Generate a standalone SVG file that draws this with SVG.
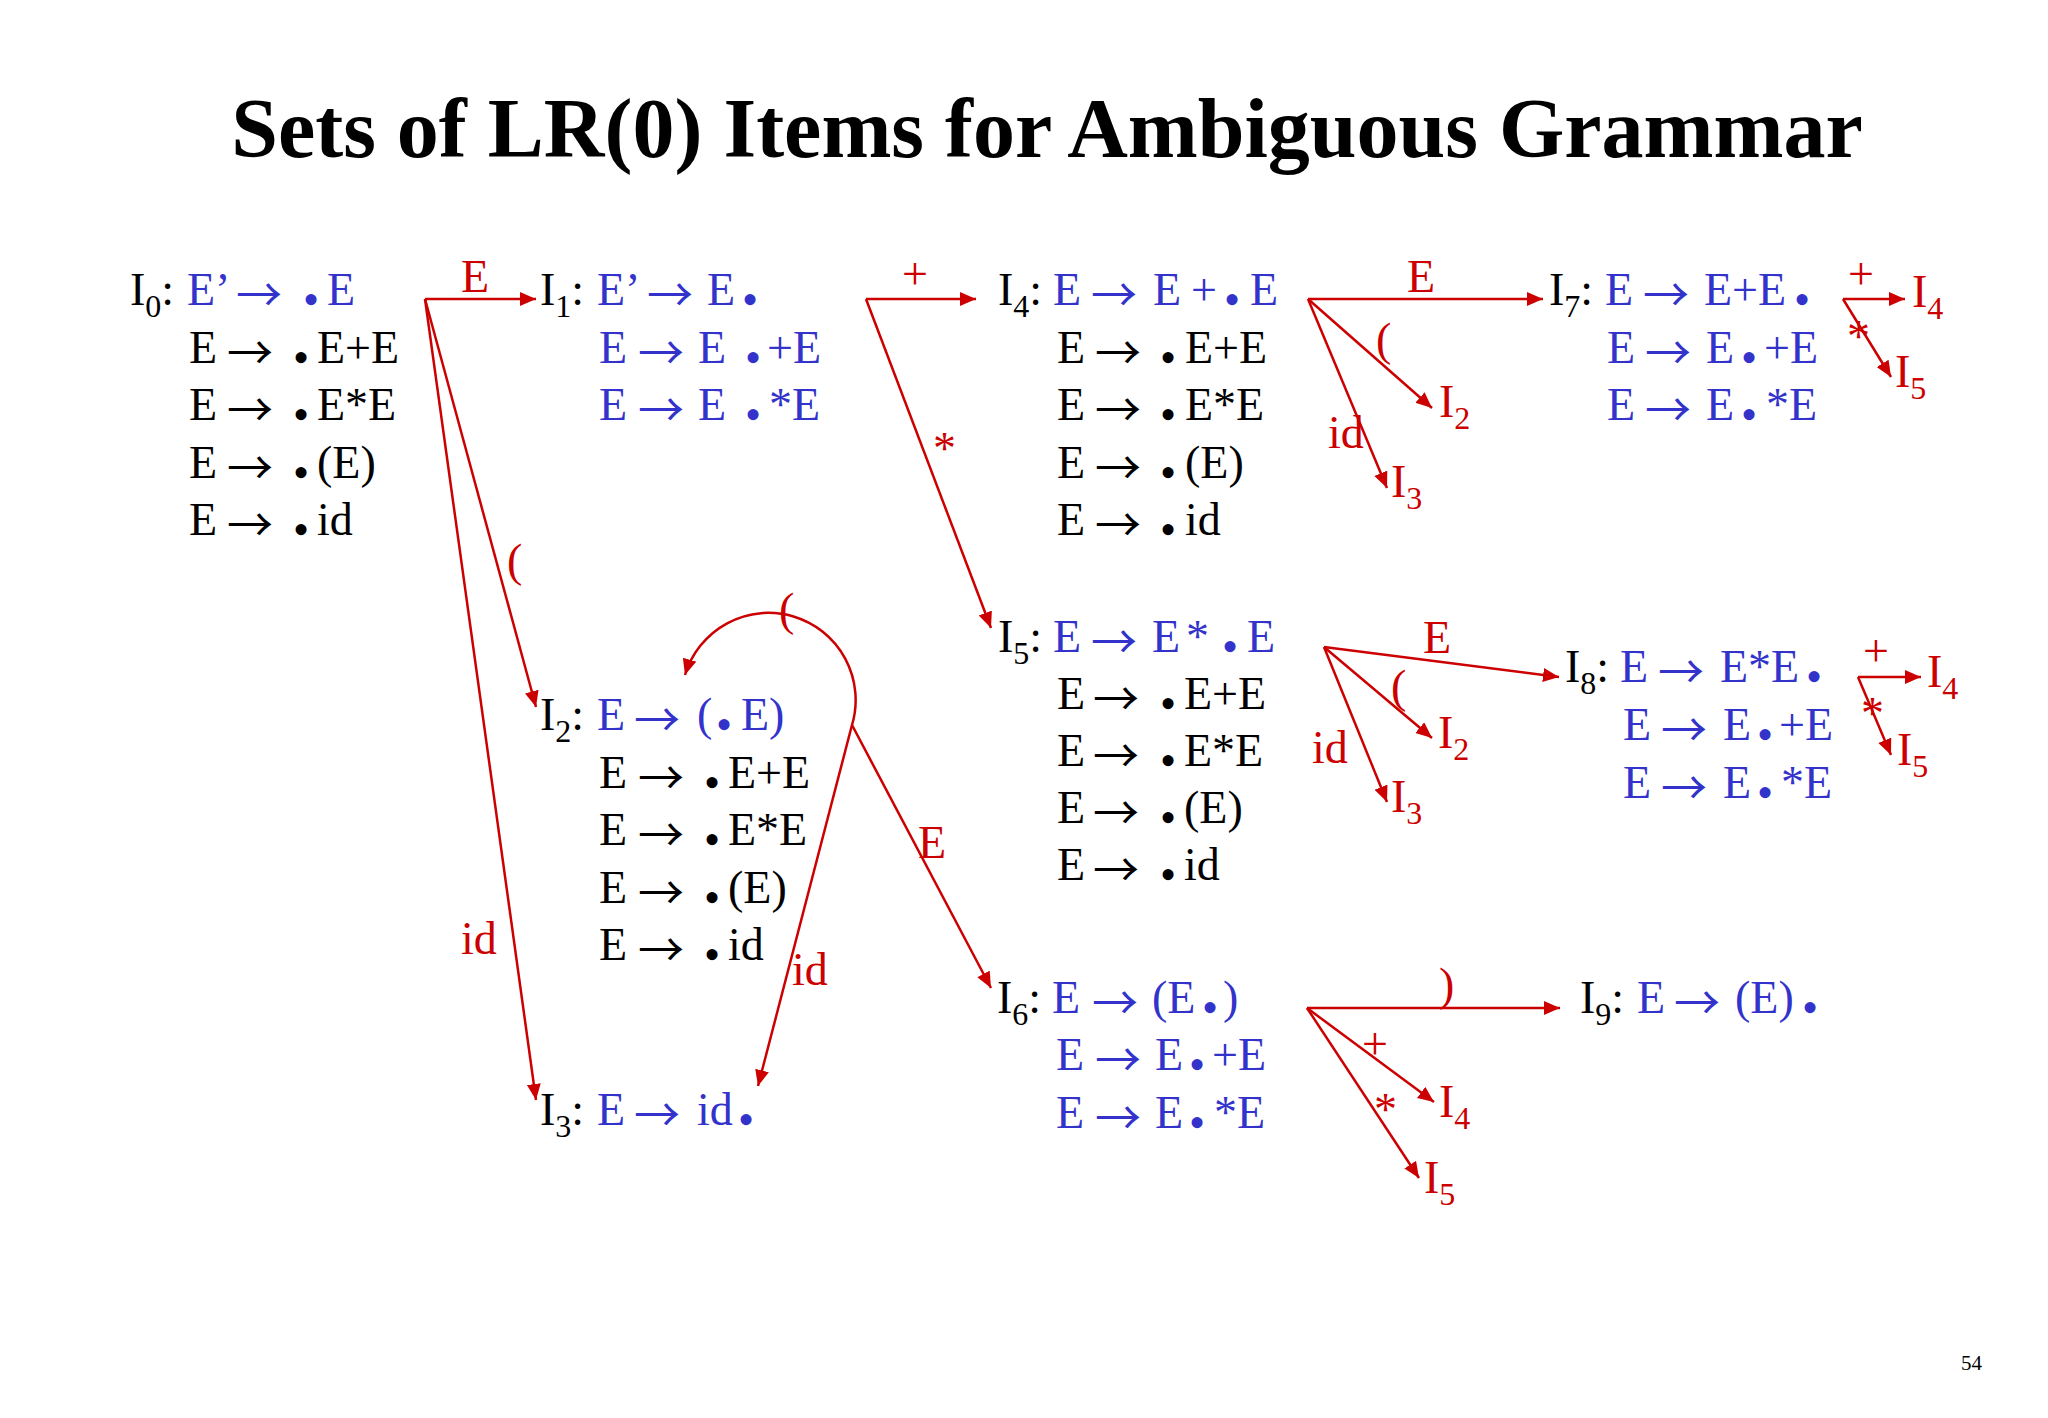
<svg xmlns="http://www.w3.org/2000/svg" width="2048" height="1418" viewBox="0 0 2048 1418">
<defs>
<style>
.t{font-family:"Liberation Serif","Times New Roman",serif;font-size:46px}
.k{fill:#000}
.b{fill:#3333CC}
.r{fill:#CC0000}
.s{font-size:32px}
.a{font-family:"Noto Sans CJK JP","Noto Sans CJK SC","DejaVu Sans",sans-serif;font-size:46px}
.ttl{font-family:"Liberation Serif","Times New Roman",serif;font-size:84px;font-weight:bold;fill:#000}
.c{fill:none;stroke:#CC0000;stroke-width:2.5}
</style>
<marker id="ah" markerUnits="userSpaceOnUse" markerWidth="18" markerHeight="16" refX="16" refY="7" orient="auto">
<path d="M0,0 L16,7 L0,14 z" fill="#CC0000"/>
</marker>
</defs>
<rect width="2048" height="1418" fill="#fff"/>
<text class="ttl" x="1047" y="157" text-anchor="middle">Sets of LR(0) Items for Ambiguous Grammar</text>

<g id="I0">
<text class="t k" x="130" y="305">I<tspan class="s" dy="12">0</tspan><tspan dy="-12">:</tspan></text>
<text class="t b" y="305"><tspan x="187">E’</tspan><tspan class="a" x="236" dy="6">→</tspan><tspan x="303" dy="4">•</tspan><tspan x="327" dy="-10">E</tspan></text>
<text class="t k" y="363"><tspan x="189">E</tspan><tspan class="a" x="227" dy="6">→</tspan><tspan x="293" dy="4">•</tspan><tspan x="317" dy="-10">E+E</tspan></text>
<text class="t k" y="420"><tspan x="189">E</tspan><tspan class="a" x="227" dy="6">→</tspan><tspan x="293" dy="4">•</tspan><tspan x="317" dy="-10">E*E</tspan></text>
<text class="t k" y="477.5"><tspan x="189">E</tspan><tspan class="a" x="227" dy="6">→</tspan><tspan x="293" dy="4">•</tspan><tspan x="317" dy="-10">(E)</tspan></text>
<text class="t k" y="535"><tspan x="189">E</tspan><tspan class="a" x="227" dy="6">→</tspan><tspan x="293" dy="4">•</tspan><tspan x="317" dy="-10">id</tspan></text>
</g>

<g id="I1">
<text class="t k" x="540" y="305">I<tspan class="s" dy="12">1</tspan><tspan dy="-12">:</tspan></text>
<text class="t b" y="305"><tspan x="597">E’</tspan><tspan class="a" x="647" dy="6">→</tspan><tspan x="707" dy="-6">E</tspan><tspan x="742" dy="10">•</tspan></text>
<text class="t b" y="363"><tspan x="599">E</tspan><tspan class="a" x="638" dy="6">→</tspan><tspan x="698" dy="-6">E</tspan><tspan x="745" dy="10">•</tspan><tspan x="767" dy="-10">+E</tspan></text>
<text class="t b" y="420"><tspan x="599">E</tspan><tspan class="a" x="638" dy="6">→</tspan><tspan x="698" dy="-6">E</tspan><tspan x="745" dy="10">•</tspan><tspan x="769" dy="-10">*E</tspan></text>
</g>

<g id="I2">
<text class="t k" x="540" y="730">I<tspan class="s" dy="12">2</tspan><tspan dy="-12">:</tspan></text>
<text class="t b" y="730"><tspan x="597">E</tspan><tspan class="a" x="634" dy="6">→</tspan><tspan x="697" dy="-6">(</tspan><tspan x="716" dy="10">•</tspan><tspan x="741" dy="-10">E)</tspan></text>
<text class="t k" y="788"><tspan x="599">E</tspan><tspan class="a" x="638" dy="6">→</tspan><tspan x="704" dy="4">•</tspan><tspan x="728" dy="-10">E+E</tspan></text>
<text class="t k" y="845"><tspan x="599">E</tspan><tspan class="a" x="638" dy="6">→</tspan><tspan x="704" dy="4">•</tspan><tspan x="728" dy="-10">E*E</tspan></text>
<text class="t k" y="902.5"><tspan x="599">E</tspan><tspan class="a" x="638" dy="6">→</tspan><tspan x="704" dy="4">•</tspan><tspan x="728" dy="-10">(E)</tspan></text>
<text class="t k" y="960"><tspan x="599">E</tspan><tspan class="a" x="638" dy="6">→</tspan><tspan x="704" dy="4">•</tspan><tspan x="728" dy="-10">id</tspan></text>
</g>

<g id="I3">
<text class="t k" x="540" y="1124.5">I<tspan class="s" dy="12">3</tspan><tspan dy="-12">:</tspan></text>
<text class="t b" y="1124.5"><tspan x="597">E</tspan><tspan class="a" x="634" dy="6">→</tspan><tspan x="697" dy="-6">id</tspan><tspan x="738" dy="10">•</tspan></text>
</g>

<g id="I4">
<text class="t k" x="998" y="305">I<tspan class="s" dy="12">4</tspan><tspan dy="-12">:</tspan></text>
<text class="t b" y="305"><tspan x="1053">E</tspan><tspan class="a" x="1091" dy="6">→</tspan><tspan x="1153" dy="-6">E</tspan><tspan x="1191">+</tspan><tspan x="1224" dy="10">•</tspan><tspan x="1250" dy="-10">E</tspan></text>
<text class="t k" y="363"><tspan x="1057">E</tspan><tspan class="a" x="1095" dy="6">→</tspan><tspan x="1160" dy="4">•</tspan><tspan x="1185" dy="-10">E+E</tspan></text>
<text class="t k" y="420"><tspan x="1057">E</tspan><tspan class="a" x="1095" dy="6">→</tspan><tspan x="1160" dy="4">•</tspan><tspan x="1185" dy="-10">E*E</tspan></text>
<text class="t k" y="477.5"><tspan x="1057">E</tspan><tspan class="a" x="1095" dy="6">→</tspan><tspan x="1160" dy="4">•</tspan><tspan x="1185" dy="-10">(E)</tspan></text>
<text class="t k" y="535"><tspan x="1057">E</tspan><tspan class="a" x="1095" dy="6">→</tspan><tspan x="1160" dy="4">•</tspan><tspan x="1185" dy="-10">id</tspan></text>
</g>

<g id="I5">
<text class="t k" x="998" y="652">I<tspan class="s" dy="12">5</tspan><tspan dy="-12">:</tspan></text>
<text class="t b" y="652"><tspan x="1053">E</tspan><tspan class="a" x="1091" dy="6">→</tspan><tspan x="1152" dy="-6">E</tspan><tspan x="1186">*</tspan><tspan x="1222" dy="10">•</tspan><tspan x="1247" dy="-10">E</tspan></text>
<text class="t k" y="708.5"><tspan x="1057">E</tspan><tspan class="a" x="1093" dy="6">→</tspan><tspan x="1160" dy="4">•</tspan><tspan x="1184" dy="-10">E+E</tspan></text>
<text class="t k" y="765.5"><tspan x="1057">E</tspan><tspan class="a" x="1093" dy="6">→</tspan><tspan x="1160" dy="4">•</tspan><tspan x="1184" dy="-10">E*E</tspan></text>
<text class="t k" y="822.5"><tspan x="1057">E</tspan><tspan class="a" x="1093" dy="6">→</tspan><tspan x="1160" dy="4">•</tspan><tspan x="1184" dy="-10">(E)</tspan></text>
<text class="t k" y="880"><tspan x="1057">E</tspan><tspan class="a" x="1093" dy="6">→</tspan><tspan x="1160" dy="4">•</tspan><tspan x="1184" dy="-10">id</tspan></text>
</g>

<g id="I6">
<text class="t k" x="997" y="1013">I<tspan class="s" dy="12">6</tspan><tspan dy="-12">:</tspan></text>
<text class="t b" y="1013"><tspan x="1052">E</tspan><tspan class="a" x="1092" dy="6">→</tspan><tspan x="1152" dy="-6">(E</tspan><tspan x="1202" dy="10">•</tspan><tspan x="1223" dy="-10">)</tspan></text>
<text class="t b" y="1070"><tspan x="1056">E</tspan><tspan class="a" x="1095" dy="6">→</tspan><tspan x="1155" dy="-6">E</tspan><tspan x="1189" dy="10">•</tspan><tspan x="1212" dy="-10">+E</tspan></text>
<text class="t b" y="1128"><tspan x="1056">E</tspan><tspan class="a" x="1095" dy="6">→</tspan><tspan x="1155" dy="-6">E</tspan><tspan x="1189" dy="10">•</tspan><tspan x="1214" dy="-10">*E</tspan></text>
</g>

<g id="I7">
<text class="t k" x="1549" y="305">I<tspan class="s" dy="12">7</tspan><tspan dy="-12">:</tspan></text>
<text class="t b" y="305"><tspan x="1605">E</tspan><tspan class="a" x="1643" dy="6">→</tspan><tspan x="1704" dy="-6">E+E</tspan><tspan x="1794" dy="10">•</tspan></text>
<text class="t b" y="363"><tspan x="1607">E</tspan><tspan class="a" x="1645" dy="6">→</tspan><tspan x="1706" dy="-6">E</tspan><tspan x="1741" dy="10">•</tspan><tspan x="1764" dy="-10">+E</tspan></text>
<text class="t b" y="420"><tspan x="1607">E</tspan><tspan class="a" x="1645" dy="6">→</tspan><tspan x="1706" dy="-6">E</tspan><tspan x="1741" dy="10">•</tspan><tspan x="1766" dy="-10">*E</tspan></text>
</g>

<g id="I8">
<text class="t k" x="1565" y="682">I<tspan class="s" dy="12">8</tspan><tspan dy="-12">:</tspan></text>
<text class="t b" y="682"><tspan x="1620">E</tspan><tspan class="a" x="1658" dy="6">→</tspan><tspan x="1720" dy="-6">E*E</tspan><tspan x="1806" dy="10">•</tspan></text>
<text class="t b" y="740"><tspan x="1623">E</tspan><tspan class="a" x="1661" dy="6">→</tspan><tspan x="1723" dy="-6">E</tspan><tspan x="1757" dy="10">•</tspan><tspan x="1779" dy="-10">+E</tspan></text>
<text class="t b" y="798"><tspan x="1623">E</tspan><tspan class="a" x="1661" dy="6">→</tspan><tspan x="1723" dy="-6">E</tspan><tspan x="1757" dy="10">•</tspan><tspan x="1781" dy="-10">*E</tspan></text>
</g>

<g id="I9">
<text class="t k" x="1580" y="1013">I<tspan class="s" dy="12">9</tspan><tspan dy="-12">:</tspan></text>
<text class="t b" y="1013"><tspan x="1637">E</tspan><tspan class="a" x="1674" dy="6">→</tspan><tspan x="1735" dy="-6">(E)</tspan><tspan x="1802" dy="10">•</tspan></text>
</g>

<g id="connectors">
<path class="c" marker-end="url(#ah)" d="M425,299 H536"/>
<path class="c" marker-end="url(#ah)" d="M425,299 L536,707"/>
<path class="c" marker-end="url(#ah)" d="M425,299 L536,1100"/>
<path class="c" marker-end="url(#ah)" d="M866,299 H976"/>
<path class="c" marker-end="url(#ah)" d="M866,299 L991,628"/>
<path class="c" marker-end="url(#ah)" d="M852,725 A86,86 0 0 0 685,675"/>
<path class="c" marker-end="url(#ah)" d="M852,725 L758,1086"/>
<path class="c" marker-end="url(#ah)" d="M852,725 L991,988"/>
<path class="c" marker-end="url(#ah)" d="M1308,299 H1543"/>
<path class="c" marker-end="url(#ah)" d="M1308,299 L1432,408"/>
<path class="c" marker-end="url(#ah)" d="M1308,299 L1387,488"/>
<path class="c" marker-end="url(#ah)" d="M1324,647 L1559,677"/>
<path class="c" marker-end="url(#ah)" d="M1324,647 L1432,738"/>
<path class="c" marker-end="url(#ah)" d="M1324,647 L1387,802"/>
<path class="c" marker-end="url(#ah)" d="M1307,1008 H1560"/>
<path class="c" marker-end="url(#ah)" d="M1307,1008 L1434,1102"/>
<path class="c" marker-end="url(#ah)" d="M1307,1008 L1419,1178"/>
<path class="c" marker-end="url(#ah)" d="M1843,299 H1905"/>
<path class="c" marker-end="url(#ah)" d="M1843,299 L1891,377"/>
<path class="c" marker-end="url(#ah)" d="M1858,677 H1921"/>
<path class="c" marker-end="url(#ah)" d="M1858,677 L1891,755"/>
<g class="t r">
<text x="461" y="292">E</text>
<text x="507" y="576">(</text>
<text x="461" y="954">id</text>
<text x="902" y="289">+</text>
<text x="933" y="464">*</text>
<text x="779" y="625">(</text>
<text x="918" y="858">E</text>
<text x="792" y="985">id</text>
<text x="1407" y="292">E</text>
<text x="1376" y="355">(</text>
<text x="1328" y="448">id</text>
<text x="1439" y="417">I<tspan class="s" dy="12">2</tspan></text>
<text x="1391" y="497">I<tspan class="s" dy="12">3</tspan></text>
<text x="1423" y="653">E</text>
<text x="1391" y="702">(</text>
<text x="1312" y="763">id</text>
<text x="1438" y="748">I<tspan class="s" dy="12">2</tspan></text>
<text x="1391" y="812">I<tspan class="s" dy="12">3</tspan></text>
<text x="1439" y="1000">)</text>
<text x="1362" y="1059">+</text>
<text x="1374" y="1125">*</text>
<text x="1439" y="1117">I<tspan class="s" dy="12">4</tspan></text>
<text x="1424" y="1193">I<tspan class="s" dy="12">5</tspan></text>
<text x="1848" y="289">+</text>
<text x="1847" y="352">*</text>
<text x="1912" y="307">I<tspan class="s" dy="12">4</tspan></text>
<text x="1895" y="387">I<tspan class="s" dy="12">5</tspan></text>
<text x="1863" y="666">+</text>
<text x="1861" y="729">*</text>
<text x="1927" y="687">I<tspan class="s" dy="12">4</tspan></text>
<text x="1897" y="765">I<tspan class="s" dy="12">5</tspan></text>
</g>
</g>
<text x="1961" y="1370" font-family="Liberation Serif, Times New Roman, serif" font-size="21" fill="#000">54</text>
</svg>
